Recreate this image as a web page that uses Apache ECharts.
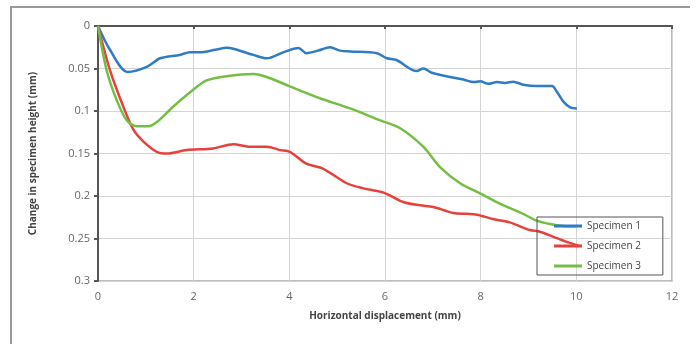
<!DOCTYPE html>
<html>
<head>
<meta charset="utf-8">
<script src="https://cdn.jsdelivr.net/npm/echarts@6/dist/echarts.min.js"></script>
<style>
  html, body { margin: 0; padding: 0; background: #fff; }
  #chart { width: 699px; height: 344px; }
</style>
</head>
<body>
<div id="chart"></div>
<script>
// x = horizontal displacement (mm), y = change in specimen height (mm)
var xTicks = [0, 2, 4, 6, 8, 10, 12];
var yTicks = [0, 0.05, 0.1, 0.15, 0.2, 0.25, 0.3];
var seriesNames = ['Specimen 1', 'Specimen 2', 'Specimen 3'];

var spec1X = [0, 0.25, 0.62, 1.02, 1.30, 1.71, 1.92, 2.13, 2.45, 2.69, 2.85, 3.25, 3.53, 3.87, 4.19, 4.36, 4.60, 4.85, 5.06, 5.27, 5.83, 6.04, 6.24, 6.66, 6.80, 6.98, 7.36, 7.64, 7.85, 7.99, 8.16, 8.34, 8.51, 8.68, 8.89, 9.17, 9.49, 9.59, 9.73, 9.87, 10.01];
var spec1Y = [0, 0.028, 0.054, 0.048, 0.038, 0.034, 0.031, 0.031, 0.028, 0.0255, 0.027, 0.034, 0.038, 0.031, 0.026, 0.032, 0.029, 0.025, 0.029, 0.030, 0.032, 0.038, 0.040, 0.053, 0.050, 0.055, 0.060, 0.063, 0.066, 0.065, 0.068, 0.066, 0.067, 0.0655, 0.069, 0.0706, 0.0706, 0.077, 0.089, 0.0957, 0.097];

var spec2X = [0, 0.25, 0.53, 0.74, 0.95, 1.23, 1.44, 1.85, 2.41, 2.83, 3.18, 3.53, 3.81, 4.01, 4.36, 4.71, 5.20, 5.55, 5.97, 6.38, 6.73, 7.01, 7.43, 7.71, 7.92, 8.26, 8.61, 8.75, 9.03, 9.24, 9.52, 9.80, 10.08];
var spec2Y = [0, 0.052, 0.095, 0.122, 0.136, 0.148, 0.150, 0.146, 0.144, 0.139, 0.142, 0.142, 0.146, 0.148, 0.162, 0.168, 0.185, 0.191, 0.196, 0.207, 0.211, 0.213, 0.220, 0.221, 0.222, 0.227, 0.231, 0.234, 0.240, 0.242, 0.248, 0.254, 0.259];

var spec3X = [0, 0.18, 0.39, 0.60, 0.81, 1.05, 1.23, 1.57, 1.99, 2.27, 2.69, 3.25, 3.53, 4.01, 4.64, 5.27, 5.90, 6.31, 6.80, 7.15, 7.57, 7.99, 8.40, 8.89, 9.17, 9.45, 9.73, 10.01];
var spec3Y = [0, 0.052, 0.087, 0.111, 0.118, 0.118, 0.113, 0.095, 0.075, 0.064, 0.059, 0.0565, 0.060, 0.071, 0.085, 0.097, 0.111, 0.120, 0.142, 0.166, 0.185, 0.197, 0.209, 0.221, 0.229, 0.233, 0.2353, 0.2357];

function pairs(xs, ys) {
    var out = [];
    for (var i = 0; i < xs.length; i++) out.push([xs[i], ys[i]]);
    return out;
}

var colors = ['#2f7cc6', '#e8413c', '#74be44'];
var font = '"Open Sans", "DejaVu Sans", sans-serif';

var myChart = echarts.init(document.getElementById('chart'));
var option = {
    backgroundColor: '#fff',
    animation: false,
    color: colors,
    grid: { left: 98, right: 27, top: 26, bottom: 63, show: true, borderColor: '#a8a8a8', borderWidth: 1.5, backgroundColor: 'transparent' },
    graphic: [
        {
            type: 'polyline',
            shape: { points: [[11, 344], [11, 7], [690, 7]] },
            style: { stroke: '#9a9a9a', lineWidth: 2, fill: null }
        }
    ],
    legend: {
        orient: 'vertical',
        left: 537, top: 217,
        padding: [3, 22, 3, 17],
        itemGap: 8,
        itemWidth: 28, itemHeight: 3,
        borderColor: '#555', borderWidth: 1,
        backgroundColor: 'transparent',
        icon: 'rect',
        data: seriesNames,
        textStyle: { fontFamily: font, fontSize: 10, lineHeight: 12, color: '#444' }
    },
    xAxis: {
        type: 'value',
        min: xTicks[0], max: xTicks[xTicks.length - 1], interval: 2,
        name: 'Horizontal displacement (mm)',
        nameLocation: 'middle', nameGap: 30,
        nameTextStyle: { fontFamily: font, fontSize: 10, fontWeight: 'bold', color: '#444' },
        axisLine: { lineStyle: { color: '#555', width: 2 } },
        axisTick: { show: true, inside: false, length: 3, lineStyle: { color: '#555', width: 2 } },
        axisLabel: { fontFamily: font, fontSize: 11, color: '#666', margin: 10 },
        splitLine: { lineStyle: { color: '#d4d4d4', width: 1 } }
    },
    yAxis: {
        type: 'value',
        inverse: true,
        min: yTicks[0], max: yTicks[yTicks.length - 1], interval: 0.05,
        name: 'Change in specimen height (mm)',
        nameLocation: 'middle', nameGap: 60, nameRotate: 90,
        nameTextStyle: { fontFamily: font, fontSize: 10, fontWeight: 'bold', color: '#444' },
        axisLine: { show: true, lineStyle: { color: '#555', width: 2 } },
        axisTick: { show: true, length: 4, lineStyle: { color: '#555', width: 2 } },
        axisLabel: { fontFamily: font, fontSize: 11, color: '#666', margin: 8 },
        splitLine: { lineStyle: { color: '#d4d4d4', width: 1 } }
    },
    series: [
        { name: seriesNames[0], type: 'line', data: pairs(spec1X, spec1Y), showSymbol: false, smooth: 0.3, lineStyle: { width: 2.5 } },
        { name: seriesNames[1], type: 'line', data: pairs(spec2X, spec2Y), showSymbol: false, smooth: 0.3, lineStyle: { width: 2.5 } },
        { name: seriesNames[2], type: 'line', data: pairs(spec3X, spec3Y), showSymbol: false, smooth: 0.3, lineStyle: { width: 2.5 } }
    ]
};
myChart.setOption(option);
</script>
</body>
</html>
